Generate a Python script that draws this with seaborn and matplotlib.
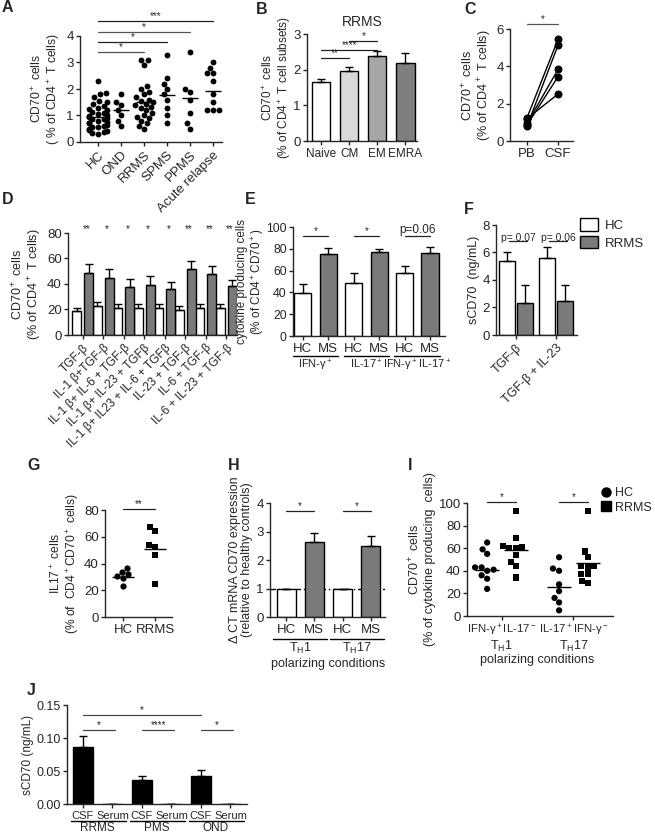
import matplotlib
matplotlib.use("Agg")
import matplotlib.pyplot as plt
from matplotlib.patches import Patch
from matplotlib.lines import Line2D
from matplotlib.ticker import FormatStrFormatter
import seaborn as sns
import pandas as pd
import numpy as np

sns.set_style("ticks")
plt.rcParams["font.family"] = ["Liberation Sans", "DejaVu Sans"]
plt.rcParams["mathtext.default"] = "regular"
plt.rcParams["font.size"] = 9
plt.rcParams["axes.linewidth"] = 1.0
plt.rcParams["xtick.major.size"] = 3
plt.rcParams["ytick.major.size"] = 3
plt.rcParams["xtick.major.width"] = 1
plt.rcParams["ytick.major.width"] = 1
plt.rcParams["xtick.major.pad"] = 2
plt.rcParams["ytick.major.pad"] = 1.5
plt.rcParams["axes.labelpad"] = 1.5

GRAY = "#7a7a7a"

# -----------------------------
# DATA
# -----------------------------
# A
a_groups = ["HC", "OND", "RRMS", "SPMS", "PPMS", "Acute relapse"]
a_hc = [2.3, 1.85, 1.8, 1.7, 1.55, 1.5, 1.45, 1.35, 1.3, 1.25, 1.2, 1.15, 1.1, 1.05,
        1.0, 0.98, 0.95, 0.9, 0.88, 0.85, 0.8, 0.75, 0.72, 0.7, 0.65, 0.6, 0.58,
        0.55, 0.5, 0.45, 0.42, 0.38, 0.35, 0.3]
a_ond = [1.8, 1.5, 1.4, 1.2, 1.0, 0.8, 0.6]
a_rrms = [3.1, 3.1, 2.9, 2.1, 2.0, 1.9, 1.8, 1.7, 1.6, 1.55, 1.5, 1.42, 1.4, 1.32,
          1.3, 1.2, 1.1, 1.0, 0.95, 0.9, 0.8, 0.7, 0.6, 0.5]
a_spms = [3.3, 2.4, 2.2, 2.0, 1.8, 1.6, 1.3, 1.0, 0.7]
a_ppms = [3.4, 2.0, 1.9, 1.6, 1.1, 0.7, 0.5]
a_acute = [3.0, 2.8, 2.6, 2.6, 2.3, 1.8, 1.5, 1.2, 1.2, 1.2]
a_lines = [0.95, 1.2, 1.5, 1.77, 1.65, 1.93]

# B
b_subsets = ["Naive", "CM", "EM", "EMRA"]
b_means = [1.65, 1.95, 2.38, 2.2]
b_sem = [0.1, 0.13, 0.15, 0.28]
b_colors = ["white", "#d9d9d9", "#a6a6a6", "#7f7f7f"]

# C
c_pb = [1.25, 0.8, 0.95, 0.86, 1.2]
c_csf = [5.45, 5.14, 3.84, 3.45, 2.52]

# D
d_conds = ["TGF-β", "IL-1 β+TGF-β", "IL-1 β+ IL-6 + TGF-β", "IL-1 β+ IL-23 + TGFβ",
           "IL-1 β+ IL23 + IL-6 + TGFβ", "IL-23 + TGF-β", "IL-6 + TGF-β",
           "IL-6 + IL-23 + TGF-β"]
d_hc = [19, 23, 21, 21.5, 21, 19.5, 21, 21]
d_hc_sem = [2.5, 3, 3, 3, 3, 3, 3, 3.5]
d_ms = [49, 45, 38, 39.5, 36, 51.5, 47.5, 38.5]
d_ms_sem = [7, 7, 6, 6.5, 5.5, 6.5, 7, 5]
d_stars = ["**", "*", "*", "*", "*", "**", "**", "**"]

# E
e_labels = ["HC", "MS", "HC", "MS", "HC", "MS"]
e_vals = [39, 75, 49, 77, 58, 76]
e_sem = [9, 6, 9, 3, 6, 6]
e_cyto = ["IFN-γ$^+$", "IL-17$^+$", "IFN-γ$^+$IL-17$^+$"]
e_sig = ["*", "*", "p=0.06"]

# F
f_conds = ["TGF-β", "TGF-β + IL-23"]
f_hc = [5.4, 5.6]
f_hc_sem = [0.65, 0.8]
f_rrms = [2.35, 2.5]
f_rrms_sem = [1.25, 1.15]
f_p = ["p= 0.07", "p= 0.06"]

# G
g_hc = [34, 37, 31, 32, 29, 23]
g_rrms = [67, 64, 54, 52, 46, 25]
g_lines = [30, 51]

# H
h_labels = ["HC", "MS", "HC", "MS"]
h_vals = [1, 2.62, 1, 2.48]
h_sem = [0, 0.32, 0, 0.35]
h_th = ["T$_H$1", "T$_H$17"]

# I
i_conds = ["IFN-γ$^+$IL-17$^-$", "IL-17$^+$IFN-γ$^-$"]
i_hc = [[65, 59, 55, 43, 43, 41, 40, 36, 33, 24], [52, 42, 40, 28, 22, 16, 12, 5]]
i_rrms = [[93, 69, 62, 61, 60, 60, 54, 48, 44, 34], [93, 57, 52, 44, 44, 43, 37, 37, 31, 29]]
i_lines_hc = [41, 26]
i_lines_rrms = [58, 47]

# J
j_labels = ["CSF", "Serum", "CSF", "Serum", "CSF", "Serum"]
j_vals = [0.087, 0.0006, 0.037, 0.0006, 0.043, 0.0006]
j_sem = [0.016, 0, 0.005, 0, 0.008, 0]
j_groups = ["RRMS", "PMS", "OND"]

# -----------------------------
# HELPERS
# -----------------------------
W, H = 655, 838
fig = plt.figure(figsize=(W / 100, H / 100), dpi=100)


def box(x0, y0, x1, y1):
    return [x0 / W, 1 - y1 / H, (x1 - x0) / W, (y1 - y0) / H]


def sig(ax, x1, x2, y, label, color="#222222", fs=7, dy=0.0):
    ax.plot([x1, x2], [y, y], color=color, lw=0.9, clip_on=False)
    ax.text((x1 + x2) / 2, y + dy, label, ha="center", va="bottom", fontsize=fs, clip_on=False)


def add_err(ax, errs):
    bars = sorted([p for p in ax.patches], key=lambda p: p.get_x())
    xs = [b.get_x() + b.get_width() / 2 for b in bars]
    hs = [b.get_height() for b in bars]
    ax.errorbar(xs, hs, yerr=[np.zeros(len(errs)), errs], fmt="none", ecolor="black",
                elinewidth=1, capsize=3, capthick=1, zorder=1)
    return xs


def style(ax, size=9.5):
    sns.despine(ax=ax)
    ax.tick_params(labelsize=size)


def ylab(ax, text, size=8.7, pad=1.5):
    ax.set_ylabel(text, fontsize=size, labelpad=pad, linespacing=1.1)


def letter(x, y, s):
    fig.text(x / W, 1 - y / H, s, fontsize=11.5, fontweight="bold", ha="left", va="center")


# -----------------------------
# A
# -----------------------------
ax = fig.add_axes(box(80, 36, 222, 142))
a_lists = [a_hc, a_ond, a_rrms, a_spms, a_ppms, a_acute]
df_a = pd.DataFrame({"group": [g for g, v in zip(a_groups, a_lists) for _ in v],
                     "value": [x for v in a_lists for x in v]})
sns.swarmplot(data=df_a, x="group", y="value", order=a_groups, color="black", size=4.2, ax=ax)
for i, m in enumerate(a_lines):
    hw = 0.5 if i == 0 else 0.36
    ax.hlines(m, i - hw, i + hw, color="black", lw=1)
ax.set_xlim(-0.78, 5.39)
ax.set_ylim(0, 4)
ax.set_yticks([0, 1, 2, 3, 4])
ax.set_xlabel("")
ylab(ax, "CD70$^+$ cells\n( % of CD4$^+$ T cells)", pad=3)
style(ax)
ax.set_xticks(range(6), a_groups, rotation=45, ha="right", rotation_mode="anchor", fontsize=9.5)
sig(ax, 0, 2, 3.4, "*", color="#555555")
sig(ax, 0, 3, 3.77, "*")
sig(ax, 0, 4, 4.15, "*", color="#555555")
sig(ax, 0, 5, 4.57, "***")
letter(2, 8, "A")

# -----------------------------
# B
# -----------------------------
ax = fig.add_axes(box(307, 34, 417, 141))
df_b = pd.DataFrame({"subset": b_subsets, "value": b_means})
sns.barplot(data=df_b, x="subset", y="value", hue="subset", palette=b_colors,
            edgecolor="black", linewidth=1, width=0.65, legend=False, ax=ax)
add_err(ax, b_sem)
ax.set_xlim(-0.5, 3.41)
ax.set_ylim(0, 3)
ax.set_yticks([0, 1, 2, 3])
ax.set_xlabel("")
ylab(ax, "CD70$^+$ cells\n(% of CD4$^+$ T cell subsets)", size=8.5, pad=0.5)
ax.set_title("RRMS", fontsize=10, pad=6)
style(ax)
ax.set_xticks(range(4), b_subsets, fontsize=8.5)
sig(ax, 0, 1, 2.32, "**")
sig(ax, 0, 2, 2.56, "****")
sig(ax, 1, 2, 2.81, "*")
letter(256, 9, "B")

# -----------------------------
# C
# -----------------------------
ax = fig.add_axes(box(510, 29, 573, 141))
df_c = pd.DataFrame({"site": ["PB"] * len(c_pb) + ["CSF"] * len(c_csf),
                     "value": c_pb + c_csf,
                     "donor": list(range(len(c_pb))) * 2})
sns.lineplot(data=df_c, x="site", y="value", units="donor", estimator=None, color="black",
             lw=1, marker="o", markersize=5, markeredgecolor="black", ax=ax)
ax.set_xlim(-0.55, 1.48)
ax.set_ylim(0, 6)
ax.set_yticks([0, 2, 4, 6])
ax.set_xlabel("")
ylab(ax, "CD70$^+$ cells\n(% of CD4$^+$ T cells)", size=9)
style(ax)
sig(ax, 0, 1, 6.27, "*", color="#555555")
letter(464, 10, "C")

# -----------------------------
# D
# -----------------------------
ax = fig.add_axes(box(68, 233, 237, 335))
df_d = pd.DataFrame({"cond": d_conds * 2, "group": ["HC"] * 8 + ["RRMS"] * 8,
                     "value": d_hc + d_ms})
sns.barplot(data=df_d, x="cond", y="value", hue="group", order=d_conds,
            hue_order=["HC", "RRMS"], palette={"HC": "white", "RRMS": GRAY},
            width=1.14, gap=0.23, edgecolor="black", linewidth=1, legend=False, ax=ax)
d_err = [e for pair in zip(d_hc_sem, d_ms_sem) for e in pair]
xs = add_err(ax, d_err)
for i, s in enumerate(d_stars):
    ax.text(xs[2 * i + 1] - 0.1, 79, s, ha="center", va="bottom", fontsize=7, clip_on=False)
ax.set_xlim(-0.72, 7.52)
ax.set_ylim(0, 80)
ax.set_yticks([0, 20, 40, 60, 80])
ax.set_xlabel("")
ylab(ax, "CD70$^+$ cells\n(% of CD4$^+$ T cells)", size=9, pad=2)
style(ax)
ax.set_xticks(range(8), d_conds, rotation=45, ha="right", rotation_mode="anchor", fontsize=8.5)
letter(2, 200, "D")

# -----------------------------
# E
# -----------------------------
ax = fig.add_axes(box(293, 227, 445, 336))
df_e = pd.DataFrame({"bar": [f"{l}{i}" for i, l in enumerate(e_labels)],
                     "group": e_labels, "value": e_vals})
sns.barplot(data=df_e, x="bar", y="value", hue="group", palette={"HC": "white", "MS": GRAY},
            dodge=False, width=0.67, edgecolor="black", linewidth=1, legend=False, ax=ax)
add_err(ax, e_sem)
ax.set_xlim(-0.39, 5.59)
ax.set_ylim(0, 100)
ax.set_yticks([0, 20, 40, 60, 80, 100])
ax.set_xlabel("")
ylab(ax, "cytokine producing cells\n(% of CD4$^+$CD70$^+$)", size=8.5, pad=0.5)
ax.set_xticks(range(6), e_labels)
style(ax)
ax.tick_params(axis="y", labelsize=8.8)
tr = ax.get_xaxis_transform()
for k, (lab, s) in enumerate(zip(e_cyto, e_sig)):
    x0 = 2 * k
    ax.plot([x0 - 0.4, x0 + 1.4], [-0.18, -0.18], transform=tr, color="black", lw=1, clip_on=False)
    ax.text(x0 + 0.5, -0.2, lab, transform=tr, ha="center", va="top", fontsize=8)
    sig(ax, x0, x0 + 1, 92, s, fs=7 if s == "*" else 8.5)
letter(245, 200, "E")

# -----------------------------
# F
# -----------------------------
ax = fig.add_axes(box(496, 225, 577, 335))
df_f = pd.DataFrame({"cond": f_conds * 2, "group": ["HC"] * 2 + ["RRMS"] * 2,
                     "value": f_hc + f_rrms})
sns.barplot(data=df_f, x="cond", y="value", hue="group", order=f_conds,
            hue_order=["HC", "RRMS"], palette={"HC": "white", "RRMS": GRAY},
            width=0.9, gap=0.11, edgecolor="black", linewidth=1, legend=False, ax=ax)
f_err = [e for pair in zip(f_hc_sem, f_rrms_sem) for e in pair]
xs = add_err(ax, f_err)
for i, p in enumerate(f_p):
    sig(ax, xs[2 * i] + 0.05, xs[2 * i + 1] + 0.05, 6.8, p, fs=7.5, dy=-0.08)
ax.set_xlim(-0.5, 1.52)
ax.set_ylim(0, 8)
ax.set_yticks([0, 2, 4, 6, 8])
ax.set_xlabel("")
ylab(ax, "sCD70  (ng/mL)", size=9, pad=2)
style(ax)
ax.set_xticks(range(2), f_conds, rotation=45, ha="right", rotation_mode="anchor", fontsize=9)
fig.legend(handles=[Patch(facecolor="white", edgecolor="black", lw=1),
                    Patch(facecolor=GRAY, edgecolor="black", lw=1)],
           labels=["HC", "RRMS"], loc="upper left", bbox_to_anchor=(580 / W, 1 - 218 / H),
           frameon=False, fontsize=9.5, handlelength=1.4, handleheight=1.1,
           borderaxespad=0, borderpad=0, labelspacing=0.3, handletextpad=0.5)
letter(464, 210, "F")

# -----------------------------
# G
# -----------------------------
ax = fig.add_axes(box(105, 510, 172, 617))
df_g = pd.DataFrame({"group": ["HC"] * len(g_hc) + ["RRMS"] * len(g_rrms),
                     "value": g_hc + g_rrms})
sns.swarmplot(data=df_g[df_g.group == "HC"], x="group", y="value", order=["HC", "RRMS"],
              color="black", marker="o", size=4.5, ax=ax)
sns.swarmplot(data=df_g[df_g.group == "RRMS"], x="group", y="value", order=["HC", "RRMS"],
              color="black", marker="s", size=4.5, ax=ax)
for i, m in enumerate(g_lines):
    ax.hlines(m, i - 0.35, i + 0.35, color="black", lw=1)
ax.set_xlim(-0.56, 1.53)
ax.set_ylim(0, 80)
ax.set_yticks([0, 20, 40, 60, 80])
ax.set_xlabel("")
ylab(ax, "IL17$^+$ cells\n(% of  CD4$^+$CD70$^+$ cells)", pad=2)
style(ax)
sig(ax, 0, 1, 81, "**")
letter(27, 465, "G")

# -----------------------------
# H
# -----------------------------
ax = fig.add_axes(box(270, 503, 385, 617))
df_h = pd.DataFrame({"bar": [f"{l}{i}" for i, l in enumerate(h_labels)],
                     "group": h_labels, "value": h_vals})
sns.barplot(data=df_h, x="bar", y="value", hue="group", palette={"HC": "white", "MS": GRAY},
            dodge=False, width=0.67, edgecolor="black", linewidth=1, legend=False, ax=ax)
add_err(ax, h_sem)
ax.axhline(1, color="black", lw=1, ls=(0, (4, 2, 1, 2)), zorder=0.5)
ax.set_xlim(-0.57, 3.5)
ax.set_ylim(0, 4)
ax.set_yticks([0, 1, 2, 3, 4])
ax.set_xlabel("")
ylab(ax, "Δ CT mRNA CD70 expression\n(relative to healthy controls)", size=9, pad=2)
ax.set_xticks(range(4), h_labels)
style(ax)
tr = ax.get_xaxis_transform()
for k, lab in enumerate(h_th):
    x0 = 2 * k
    ax.plot([x0 - 0.45, x0 + 1.45], [-0.19, -0.19], transform=tr, color="black", lw=1, clip_on=False)
    ax.text(x0 + 0.5, -0.21, lab, transform=tr, ha="center", va="top", fontsize=9)
    sig(ax, x0, x0 + 1, 3.72, "*")
ax.text(1.5, -0.36, "polarizing conditions", transform=tr, ha="center", va="top", fontsize=9)
letter(228, 465, "H")

# -----------------------------
# I
# -----------------------------
ax = fig.add_axes(box(467, 503, 613, 616))
rows = []
for cond, hc, rr in zip(i_conds, i_hc, i_rrms):
    rows += [(cond, "HC", v) for v in hc] + [(cond, "RRMS", v) for v in rr]
df_i = pd.DataFrame(rows, columns=["cond", "group", "value"])
for grp, mk in [("HC", "o"), ("RRMS", "s")]:
    sns.swarmplot(data=df_i[df_i.group == grp], x="cond", y="value", hue="group",
                  order=i_conds, hue_order=["HC", "RRMS"], dodge=True,
                  palette={"HC": "black", "RRMS": "black"}, marker=mk, size=4.5,
                  legend=False, ax=ax)
for i in range(2):
    ax.hlines(i_lines_hc[i], i - 0.2 - 0.17, i - 0.2 + 0.17, color="black", lw=1)
    ax.hlines(i_lines_rrms[i], i + 0.2 - 0.17, i + 0.2 + 0.17, color="black", lw=1)
    sig(ax, i - 0.2, i + 0.2, 101, "*")
ax.set_xlim(-0.48, 1.55)
ax.set_ylim(0, 100)
ax.set_yticks([0, 20, 40, 60, 80, 100])
ax.set_xlabel("")
ylab(ax, "CD70$^+$ cells\n(% of cytokine producing  cells)", size=9, pad=2)
style(ax)
ax.set_xticks(range(2), i_conds, fontsize=8.2)
tr = ax.get_xaxis_transform()
for k, lab in enumerate(h_th):
    ax.text(k, -0.2, lab, transform=tr, ha="center", va="top", fontsize=9)
ax.text(0.5, -0.34, "polarizing conditions", transform=tr, ha="center", va="top", fontsize=9)
fig.legend(handles=[Line2D([], [], ls="none", marker="o", color="black", markersize=6.5),
                    Line2D([], [], ls="none", marker="s", color="black", markersize=6.5)],
           labels=["HC", "RRMS"], loc="upper left", bbox_to_anchor=(601 / W, 1 - 487 / H),
           frameon=False, fontsize=9, handlelength=0.8, borderaxespad=0, borderpad=0,
           labelspacing=0.2, handletextpad=0.3)
letter(408, 465, "I")

# -----------------------------
# J
# -----------------------------
ax = fig.add_axes(box(67, 705, 247, 804))
df_j = pd.DataFrame({"bar": [f"{l}{i}" for i, l in enumerate(j_labels)], "value": j_vals})
sns.barplot(data=df_j, x="bar", y="value", color="black", width=0.68,
            edgecolor="black", linewidth=1, ax=ax)
add_err(ax, j_sem)
ax.set_xlim(-0.54, 5.56)
ax.set_ylim(0, 0.15)
ax.set_yticks([0, 0.05, 0.10, 0.15])
ax.yaxis.set_major_formatter(FormatStrFormatter("%.2f"))
ax.set_xlabel("")
ylab(ax, "sCD70 (ng/mL)", size=8.5, pad=2)
style(ax, size=9)
ax.set_xticks(range(6), j_labels, fontsize=8)
tr = ax.get_xaxis_transform()
for k, lab in enumerate(j_groups):
    x0 = 2 * k
    ax.plot([x0 - 0.4, x0 + 1.45], [-0.17, -0.17], transform=tr, color="black", lw=1, clip_on=False)
    ax.text(x0 + 0.5, -0.185, lab, transform=tr, ha="center", va="top", fontsize=8.5)
sig(ax, 0, 4, 0.135, "*", color="#444444")
sig(ax, 0, 1.1, 0.112, "*", color="#444444")
sig(ax, 2, 3.1, 0.112, "****", color="#444444")
sig(ax, 4, 5.1, 0.112, "*", color="#444444")
letter(27, 690, "J")

fig.savefig("out.png", dpi=100)
